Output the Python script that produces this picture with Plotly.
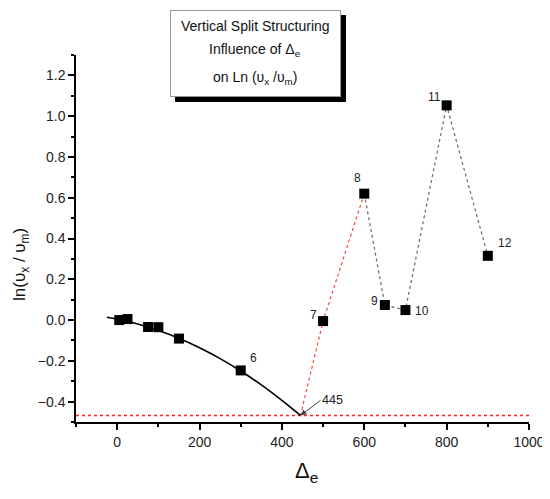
import plotly.graph_objects as go

# measured points (Delta_e vs ln(vx/vm))
delta_e = [5, 25, 75, 100, 150, 300, 500, 600, 650, 700, 800, 900]
ln_ratio = [0.0, 0.005, -0.034, -0.035, -0.091, -0.247, -0.005, 0.62, 0.074, 0.049, 1.053, 0.315]
point_labels = ['', '', '', '', '', '6', '7', '8', '9', '10', '11', '12']

# fitted curve
fit_x = [-25, 0, 50, 100, 150, 200, 250, 300, 350, 400, 445]
fit_y = [0.014, 0.005, -0.019, -0.051, -0.089, -0.136, -0.189, -0.25, -0.318, -0.394, -0.468]

# red dotted branch from the minimum, grey dotted branch after point 8
red_x = [445, 500, 600]
red_y = [-0.468, -0.005, 0.62]
grey_x = [600, 650, 700, 800, 900]
grey_y = [0.62, 0.074, 0.049, 1.053, 0.315]

min_level = -0.468
x_range = [-100, 1000]
y_range = [-0.5, 1.3]

font_name = 'Liberation Sans, Arial, sans-serif'

# page body has an 8px margin, so the plot box is placed 8px up/left
W, H = 550, 499
ML, MT, PW, PH = 68, 47, 453, 367
MR, MB = W - ML - PW, H - MT - PH
OFF = 8


def px(x):
    # screen x pixel -> paper
    return (x - OFF - ML) / PW


def py(y):
    # screen y pixel -> paper
    return 1 - (y - OFF - MT) / PH


fig = go.Figure()

# horizontal red line at the minimum
fig.add_trace(go.Scatter(x=x_range, y=[min_level, min_level], mode='lines',
                         line=dict(color='#ff2020', width=1.3, dash='dot'),
                         hoverinfo='skip', showlegend=False))
fig.add_trace(go.Scatter(x=red_x, y=red_y, mode='lines',
                         line=dict(color='#ff4040', width=1.2, dash='dot'),
                         showlegend=False))
fig.add_trace(go.Scatter(x=grey_x, y=grey_y, mode='lines',
                         line=dict(color='#666666', width=1.2, dash='dot'),
                         showlegend=False))
fig.add_trace(go.Scatter(x=fit_x, y=fit_y, mode='lines',
                         line=dict(color='black', width=1.6, shape='spline'),
                         showlegend=False))
fig.add_trace(go.Scatter(x=delta_e, y=ln_ratio, mode='markers',
                         marker=dict(symbol='square', size=10, color='black'),
                         showlegend=False))

# point number labels (pixel offsets: right, up)
label_offsets = {'6': (13, 12), '7': (-10, 6), '8': (-7, 16), '9': (-10, 4),
                 '10': (17, -1), '11': (-12, 8), '12': (17, 13)}
for x, y, lab in zip(delta_e, ln_ratio, point_labels):
    if lab:
        dx, dy = label_offsets[lab]
        fig.add_annotation(x=x, y=y, text=lab, showarrow=False, xshift=dx, yshift=dy,
                           xanchor='center', yanchor='middle',
                           font=dict(family=font_name, size=12, color='#222'))

# 445 marker
fig.add_annotation(x=445, y=min_level, text='445', showarrow=True, arrowhead=2,
                   arrowsize=1.2, arrowwidth=1, arrowcolor='#444', ax=20, ay=-15,
                   xanchor='left', yanchor='middle',
                   font=dict(family=font_name, size=12.5, color='#222'))

# title box with shadow
fig.add_annotation(xref='paper', yref='paper', x=px(175), y=py(15), xanchor='left',
                   yanchor='top', text=' ', showarrow=False, width=171, height=87,
                   bgcolor='#000000', borderpad=0, borderwidth=0)
fig.add_annotation(xref='paper', yref='paper', x=px(170), y=py(10), xanchor='left',
                   yanchor='top', text=' ', showarrow=False, width=169, height=85,
                   bgcolor='#ffffff', bordercolor='#999999', borderwidth=1, borderpad=0)
title_lines = ['Vertical Split Structuring', 'Influence of &#916;<sub>e</sub>',
               'on Ln (&#965;<sub>x</sub> /&#965;<sub>m</sub>)']
title_y = [26, 50, 78]
for txt, ty in zip(title_lines, title_y):
    fig.add_annotation(xref='paper', yref='paper', x=px(255), y=py(ty), text=txt,
                       xanchor='center', yanchor='middle', showarrow=False,
                       font=dict(family=font_name, size=14, color='#111'))

# axis titles
fig.add_annotation(xref='paper', yref='paper', x=px(21), y=py(265), textangle=-90,
                   xanchor='center', yanchor='middle',
                   text='ln(&#965;<sub>x</sub> / &#965;<sub>m</sub>)', showarrow=False,
                   font=dict(family=font_name, size=17, color='#111'))
fig.add_annotation(xref='paper', yref='paper', x=px(306), y=py(472),
                   xanchor='center', yanchor='middle',
                   text='&#916;<sub>e</sub>', showarrow=False,
                   font=dict(family=font_name, size=22, color='#111'))

axis_common = dict(showgrid=False, zeroline=False, showline=True, linecolor='black',
                   linewidth=1.5, ticks='outside', ticklen=6, tickwidth=1.5, tickcolor='black',
                   tickfont=dict(family=font_name, size=14, color='#222'))

fig.update_xaxes(range=x_range, tick0=0, dtick=200,
                 minor=dict(ticks='outside', ticklen=3, tickwidth=1.5, dtick=100, tick0=0,
                            tickcolor='black'),
                 **axis_common)
fig.update_yaxes(range=y_range, tick0=0, dtick=0.2, tickformat='.1f',
                 minor=dict(ticks='outside', ticklen=3, tickwidth=1.5, dtick=0.1, tick0=0,
                            tickcolor='black'),
                 **axis_common)

fig.update_layout(width=W, height=H, plot_bgcolor='white', paper_bgcolor='white',
                  margin=dict(l=ML, r=MR, t=MT, b=MB), showlegend=False)

fig.write_html("out.html")
